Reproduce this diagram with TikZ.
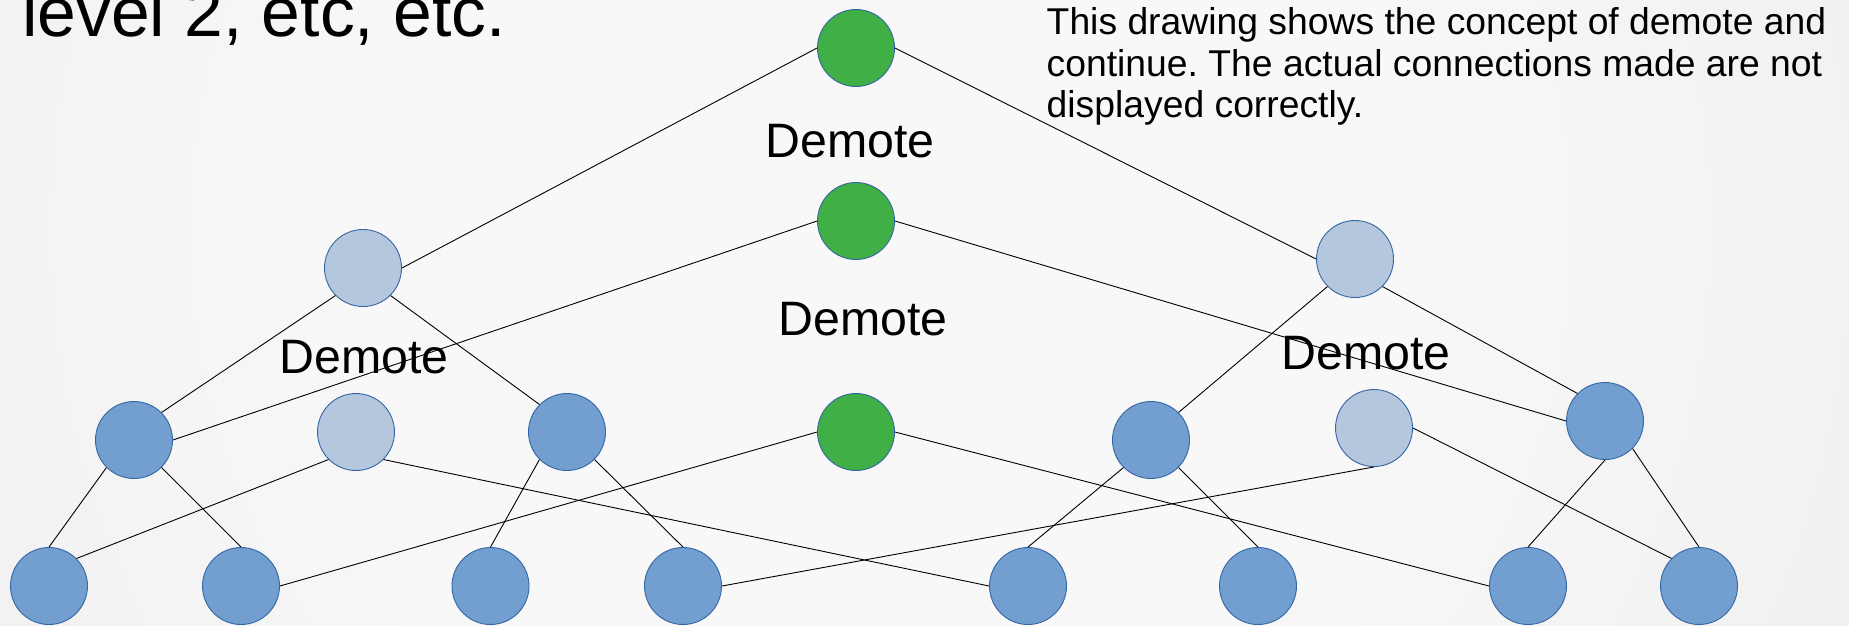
\documentclass[tikz,border=0pt]{standalone}
\usepackage{fontspec}
\setmainfont{Liberation Sans}
\frenchspacing

\definecolor{bgin}{HTML}{F8F8F8}
\definecolor{bgout}{HTML}{DADADA}
\definecolor{nodeedge}{HTML}{3465A4}
\definecolor{greenfill}{HTML}{3FAF46}
\definecolor{bluefill}{HTML}{729FCF}
\definecolor{palefill}{HTML}{B4C7DC}

\pgfdeclareradialshading{backdrop}{\pgfpoint{0bp}{0bp}}{%
  color(0bp)=(bgin); color(10bp)=(bgin); color(50bp)=(bgout)}

\tikzset{
  ball/.style={circle, draw=nodeedge, line width=0.9pt, minimum size=77pt, inner sep=0pt},
  active/.style={ball, fill=greenfill},
  member/.style={ball, fill=bluefill},
  demoted/.style={ball, fill=palefill},
  link/.style={draw=black, line width=0.9pt},
  tag/.style={inner sep=0pt, font=\fontsize{48.3}{52}\selectfont, anchor=base},
  note/.style={inner sep=0pt, font=\fontsize{37.3}{41}\selectfont, anchor=base west}
}

\begin{document}
\begin{tikzpicture}[x=1pt, y=-1pt]
  % page frame and soft backdrop
  \useasboundingbox (0,0) rectangle (1849,625);
  \begin{scope}
    \clip (0,0) rectangle (1849,625);
    \shade[shading=backdrop] (-420,-1070) rectangle (2180,1530);
  \end{scope}

  % heading fragment and explanatory note
  \node[inner sep=0pt, anchor=base west, font=\fontsize{69.6}{74}\selectfont] (head) at (22,36) {level 2, etc, etc.};
  \node[note] (noteA) at (1046.5,34.3) {This drawing shows the concept of demote and};
  \node[note] (noteB) at (1046.5,76) {continue. The actual connections made are not};
  \node[note] (noteC) at (1046.5,117.5) {displayed correctly.};

  % demote labels
  \node[tag] (dtop) at (850,157.7) {Demote};
  \node[tag] (dmid) at (863,335.7) {Demote};
  \node[tag] (dleft) at (364,373.3) {Demote};
  \node[tag] (dright) at (1366,369.3) {Demote};

  % nodes
  \node[active] (G1) at (856,48) {};
  \node[active] (G2) at (856,221) {};
  \node[active] (G3) at (856,432) {};

  \node[demoted] (L1) at (363,268) {};
  \node[demoted] (L2) at (1355,259) {};
  \node[demoted] (LL) at (356,432) {};
  \node[demoted] (LR) at (1374,428) {};

  \node[member] (M1) at (134,440) {};
  \node[member] (M2) at (567,432) {};
  \node[member] (M3) at (1151,440) {};
  \node[member] (M4) at (1605,421) {};

  \node[member] (B1) at (49,586) {};
  \node[member] (B2) at (241,586) {};
  \node[member] (B3) at (490.5,586) {};
  \node[member] (B4) at (683,586) {};
  \node[member] (B5) at (1028,586) {};
  \node[member] (B6) at (1258,586) {};
  \node[member] (B7) at (1528,586) {};
  \node[member] (B8) at (1699,586) {};

  % edges
  \draw[link] (G1.west) -- (L1.east);
  \draw[link] (G1.east) -- (L2.west);
  \draw[link] (G2.west) -- (M1.east);
  \draw[link] (G2.east) -- (M4.west);
  \draw[link] (G3.west) -- (B2.east);
  \draw[link] (G3.east) -- (B7.west);

  \draw[link] (L1.south west) -- (M1.north east);
  \draw[link] (L1.south east) -- (M2.north west);
  \draw[link] (L2.south west) -- (M3.north east);
  \draw[link] (L2.south east) -- (M4.north west);

  \draw[link] (M1.south west) -- (B1.north);
  \draw[link] (M1.south east) -- (B2.north);
  \draw[link] (LL.south west) -- (B1.north east);
  \draw[link] (LL.south east) -- (B5.west);
  \draw[link] (M2.south west) -- (B3.north);
  \draw[link] (M2.south east) -- (B4.north);
  \draw[link] (LR.south) -- (B4.east);
  \draw[link] (LR.east) -- (B8.north west);
  \draw[link] (M3.south west) -- (B5.north);
  \draw[link] (M3.south east) -- (B6.north);
  \draw[link] (M4.south) -- (B7.north);
  \draw[link] (M4.south east) -- (B8.north);
\end{tikzpicture}
\end{document}
